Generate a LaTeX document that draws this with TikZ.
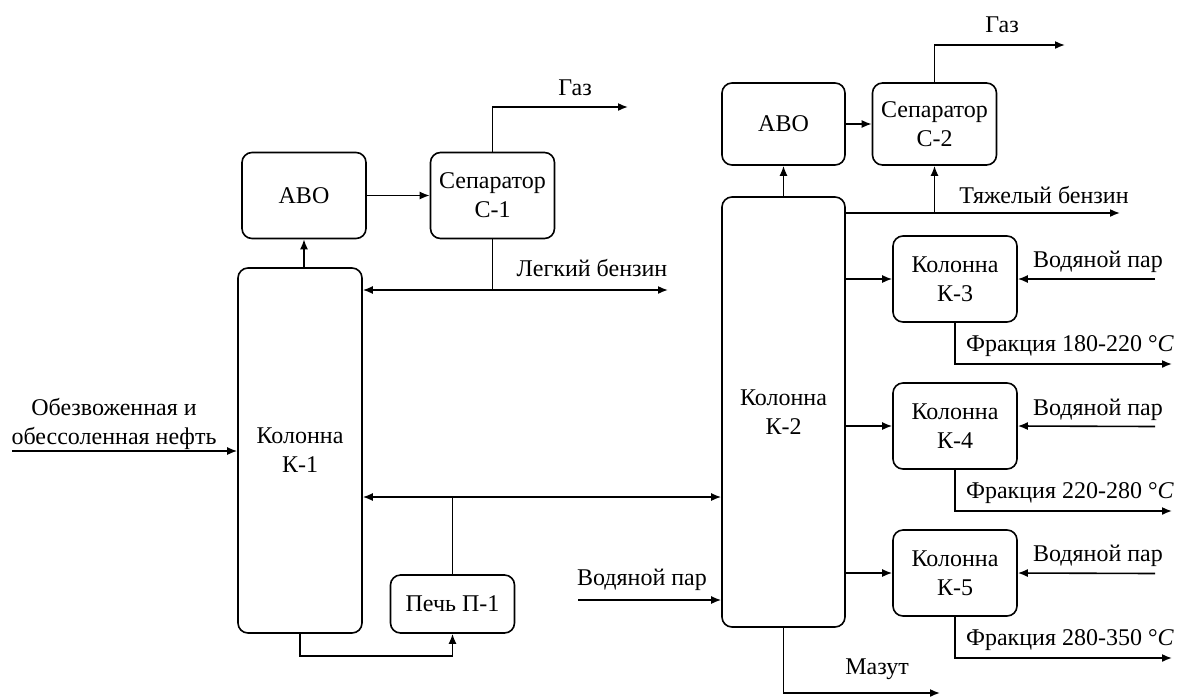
\documentclass[tikz,border=0pt]{standalone}
\usepackage{fontspec}
\setmainfont{Liberation Serif}
\usetikzlibrary{arrows.meta, positioning}

\begin{document}
\begin{tikzpicture}[x=1pt, y=-1pt, node distance=147pt, font=\fontsize{24}{29}\selectfont]
% Node styles
\tikzstyle{unit} = [rectangle, rounded corners=10pt, draw=black, line width=1.6pt, align=center, text centered, minimum width=124pt, minimum height=86pt, inner sep=2pt]
\tikzstyle{column} = [unit, minimum height=365pt]
\tikzstyle{arrow} = [line width=1.6pt, ->, >={Latex[length=10pt, width=8pt]}]
\tikzstyle{label} = [inner sep=0pt, align=center]

\useasboundingbox (0,0) rectangle (1177,697);

% Nodes: column K-1
\node [column] (k1) at (300,450.5) {Колонна\\ К-1};
\node [unit] (abo1) at (304,195.5) {АВО};
\node [unit, right of=abo1, xshift=41.5pt] (sep1) {Сепаратор\\ С-1};
\node [unit, minimum height=58pt] (pech) at (452.5,604) {Печь П-1};

% Nodes: column K-2
\node [column, minimum width=123pt, minimum height=430pt] (k2) at (783.5,412) {Колонна\\ К-2};
\node [unit, minimum width=123pt, minimum height=82pt] (abo2) at (783.5,124) {АВО};
\node [unit, minimum height=82pt, right of=abo2, xshift=4pt] (sep2) {Сепаратор\\ С-2};
\node [unit] (k3) at (955,279) {Колонна\\ К-3};
\node [unit, below of=k3] (k4) {Колонна\\ К-4};
\node [unit, below of=k4] (k5) {Колонна\\ К-5};

% Free ends
\coordinate (feed) at (12,451);
\coordinate (gas1) at (628,107);
\coordinate (lb) at (668,290);
\coordinate (pj) at (452.5,497);
\coordinate (gas2) at (1065,45);
\coordinate (tb) at (1120,213);
\coordinate (st2) at (578,600);
\coordinate (maz) at (940,693);
\coordinate (st3) at (1155,279);
\coordinate (st4) at (1155,426.5);
\coordinate (st5) at (1155,573.5);
\coordinate (fr3) at (1172,364);
\coordinate (fr4) at (1172,511);
\coordinate (fr5) at (1172,658);

% Arrows
\draw [arrow] (feed) -- (feed -| k1.west);
\draw [arrow] (k1.north -| abo1.south) -- (abo1.south);
\draw [arrow] (abo1.east) -- (abo1.east -| sep1.west);
\draw [arrow] (sep1.north) |- (gas1);
\draw [arrow] (sep1.south) |- (lb -| k1.east);
\draw [arrow] (sep1.south) |- (lb);
\draw [arrow] (pech.north) |- (pj -| k1.east);
\draw [arrow] (pj) -- (pj -| k2.west);
\draw [arrow] (k1.south) -- ++(0,22) -| (pech.south);

\draw [arrow] (k2.north) -- (abo2.south);
\draw [arrow] (abo2.east) -- (sep2.west);
\draw [arrow] (sep2.north) |- (gas2);
\draw [arrow] (tb -| k2.east) -- (tb);
\draw [arrow] (tb -| sep2.south) -- (sep2.south);
\draw [arrow] (k3.west -| k2.east) -- (k3.west);
\draw [arrow] (k4.west -| k2.east) -- (k4.west);
\draw [arrow] (k5.west -| k2.east) -- (k5.west);
\draw [arrow] (st3) -- (k3.east);
\draw [arrow] (st4) -- (k4.east);
\draw [arrow] (st5) -- (k5.east);
\draw [arrow] (k3.south) |- (fr3);
\draw [arrow] (k4.south) |- (fr4);
\draw [arrow] (k5.south) |- (fr5);
\draw [arrow] (st2) -- (st2 -| k2.west);
\draw [arrow] (k2.south) |- (maz);

% Labels
\node [label] (lfeed) at (114,424) {Обезвоженная и\\ обессоленная нефть};
\node [label] (lgas1) at (575,88) {Газ};
\node [label] (llb) at (592,268) {Легкий бензин};
\node [label] (lgas2) at (1002,25) {Газ};
\node [label] (ltb) at (1044,195) {Тяжелый бензин};
\node [label] (lst3) at (1098,262) {Водяной пар};
\node [label] (lst4) at (1098,410) {Водяной пар};
\node [label] (lst5) at (1098,556) {Водяной пар};
\node [label] (lfr3) at (1070,346) {Фракция 180-220 °\textit{C}};
\node [label] (lfr4) at (1070,493) {Фракция 220-280 °\textit{C}};
\node [label] (lfr5) at (1070,640) {Фракция 280-350 °\textit{C}};
\node [label] (lst2) at (642,580) {Водяной пар};
\node [label] (lmaz) at (877,669) {Мазут};
\end{tikzpicture}
\end{document}
